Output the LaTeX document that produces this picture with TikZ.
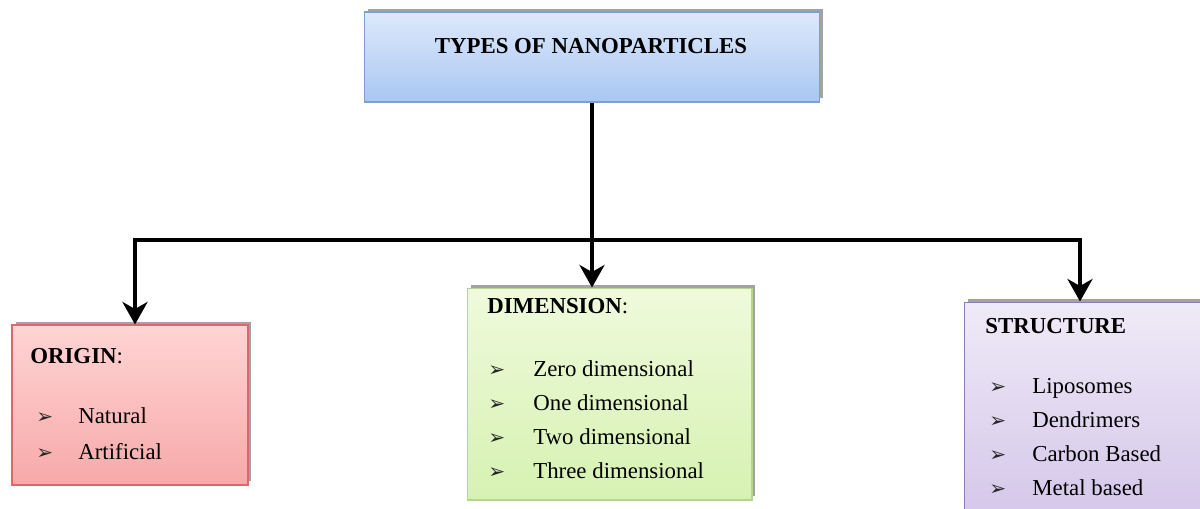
\documentclass[tikz,border=0pt]{standalone}
\usepackage{fontspec}
\setmainfont{Liberation Serif}
\newfontfamily\arrowfont{DejaVu Sans}
\usetikzlibrary{arrows.meta,shadows}

\definecolor{typestop}{HTML}{DDE9FB}
\definecolor{typesbot}{HTML}{A9C7F2}
\definecolor{typesline}{HTML}{7F9FD0}
\definecolor{origintop}{HTML}{FFD4D4}
\definecolor{originbot}{HTML}{F7A9A9}
\definecolor{originline}{HTML}{D86A6A}
\definecolor{dimtop}{HTML}{EFFADB}
\definecolor{dimbot}{HTML}{D6F2B2}
\definecolor{dimline}{HTML}{B5D48C}
\definecolor{structop}{HTML}{EFEAF7}
\definecolor{strucbot}{HTML}{D5C8EA}
\definecolor{strucline}{HTML}{8E7DB5}

\begin{document}
\begin{tikzpicture}[x=0.02cm, y=-0.02cm,
  box/.style={draw, line width=0.6pt, inner sep=0pt,
    drop shadow={shadow xshift=2pt, shadow yshift=2pt, fill=black!60, opacity=0.6}},
  conn/.style={line width=2.3pt, black},
  tip/.style={-{Stealth[length=0.45cm, width=0.5cm, inset=0.14cm]}},
  txt/.style={anchor=base west, inner sep=0pt, font=\fontsize{13}{15}\selectfont},
  bul/.style={anchor=base west, inner sep=0pt, text=black!85, font=\arrowfont\fontsize{11.5}{13}\selectfont}]
  \useasboundingbox (0,0) rectangle (1200,508);
  % boxes
  \node[box, draw=typesline, top color=typestop, bottom color=typesbot,
        minimum width=9.1cm, minimum height=1.8cm] (types) at (592,57) {};
  \node[box, draw=originline, top color=origintop, bottom color=originbot,
        minimum width=4.72cm, minimum height=3.2cm] (origin) at (130,405) {};
  \node[box, draw=dimline, top color=dimtop, bottom color=dimbot,
        minimum width=5.7cm, minimum height=4.24cm] (dimension) at (609.5,394) {};
  \node[box, draw=strucline, top color=structop, bottom color=strucbot,
        minimum width=4.78cm, minimum height=4.16cm] (structure) at (1084,406) {};
  % title
  \node[txt, anchor=base, font=\bfseries\fontsize{13}{15}\selectfont] (title) at (591,53) {TYPES OF NANOPARTICLES};
  % connectors
  \coordinate (busL) at (135,240);
  \coordinate (busR) at (1080,240);
  \draw[conn, {Stealth[length=0.45cm, width=0.5cm, inset=0.14cm]}-{Stealth[length=0.45cm, width=0.5cm, inset=0.14cm]}]
      (busL |- origin.north) -- (busL) -- (busR) -- (busR |- structure.north);
  \draw[conn, tip] (types.south) -- (types.south |- dimension.north);
  % origin
  \node[txt] (originhead) at (30,363) {\textbf{ORIGIN}:};
  \foreach \lbl [count=\i] in {Natural,Artificial} {
    \node[bul] (ob\i) at (36,{423+36*(\i-1)}) {➢};
    \node[txt] (o\i) at (78,{423+36*(\i-1)}) {\lbl};
  }
  % dimension
  \node[txt] (dimhead) at (487,313) {\textbf{DIMENSION}:};
  \foreach \lbl [count=\i] in {Zero dimensional,One dimensional,Two dimensional,Three dimensional} {
    \node[bul] (db\i) at (488,{376+34*(\i-1)}) {➢};
    \node[txt] (d\i) at (533,{376+34*(\i-1)}) {\lbl};
  }
  % structure
  \node[txt] (structhead) at (985,333) {\textbf{STRUCTURE}};
  \foreach \lbl [count=\i] in {Liposomes,Dendrimers,Carbon Based,Metal based} {
    \node[bul] (sb\i) at (989,{393+34.3*(\i-1)}) {➢};
    \node[txt] (s\i) at (1032,{393+34.3*(\i-1)}) {\lbl};
  }
\end{tikzpicture}
\end{document}
